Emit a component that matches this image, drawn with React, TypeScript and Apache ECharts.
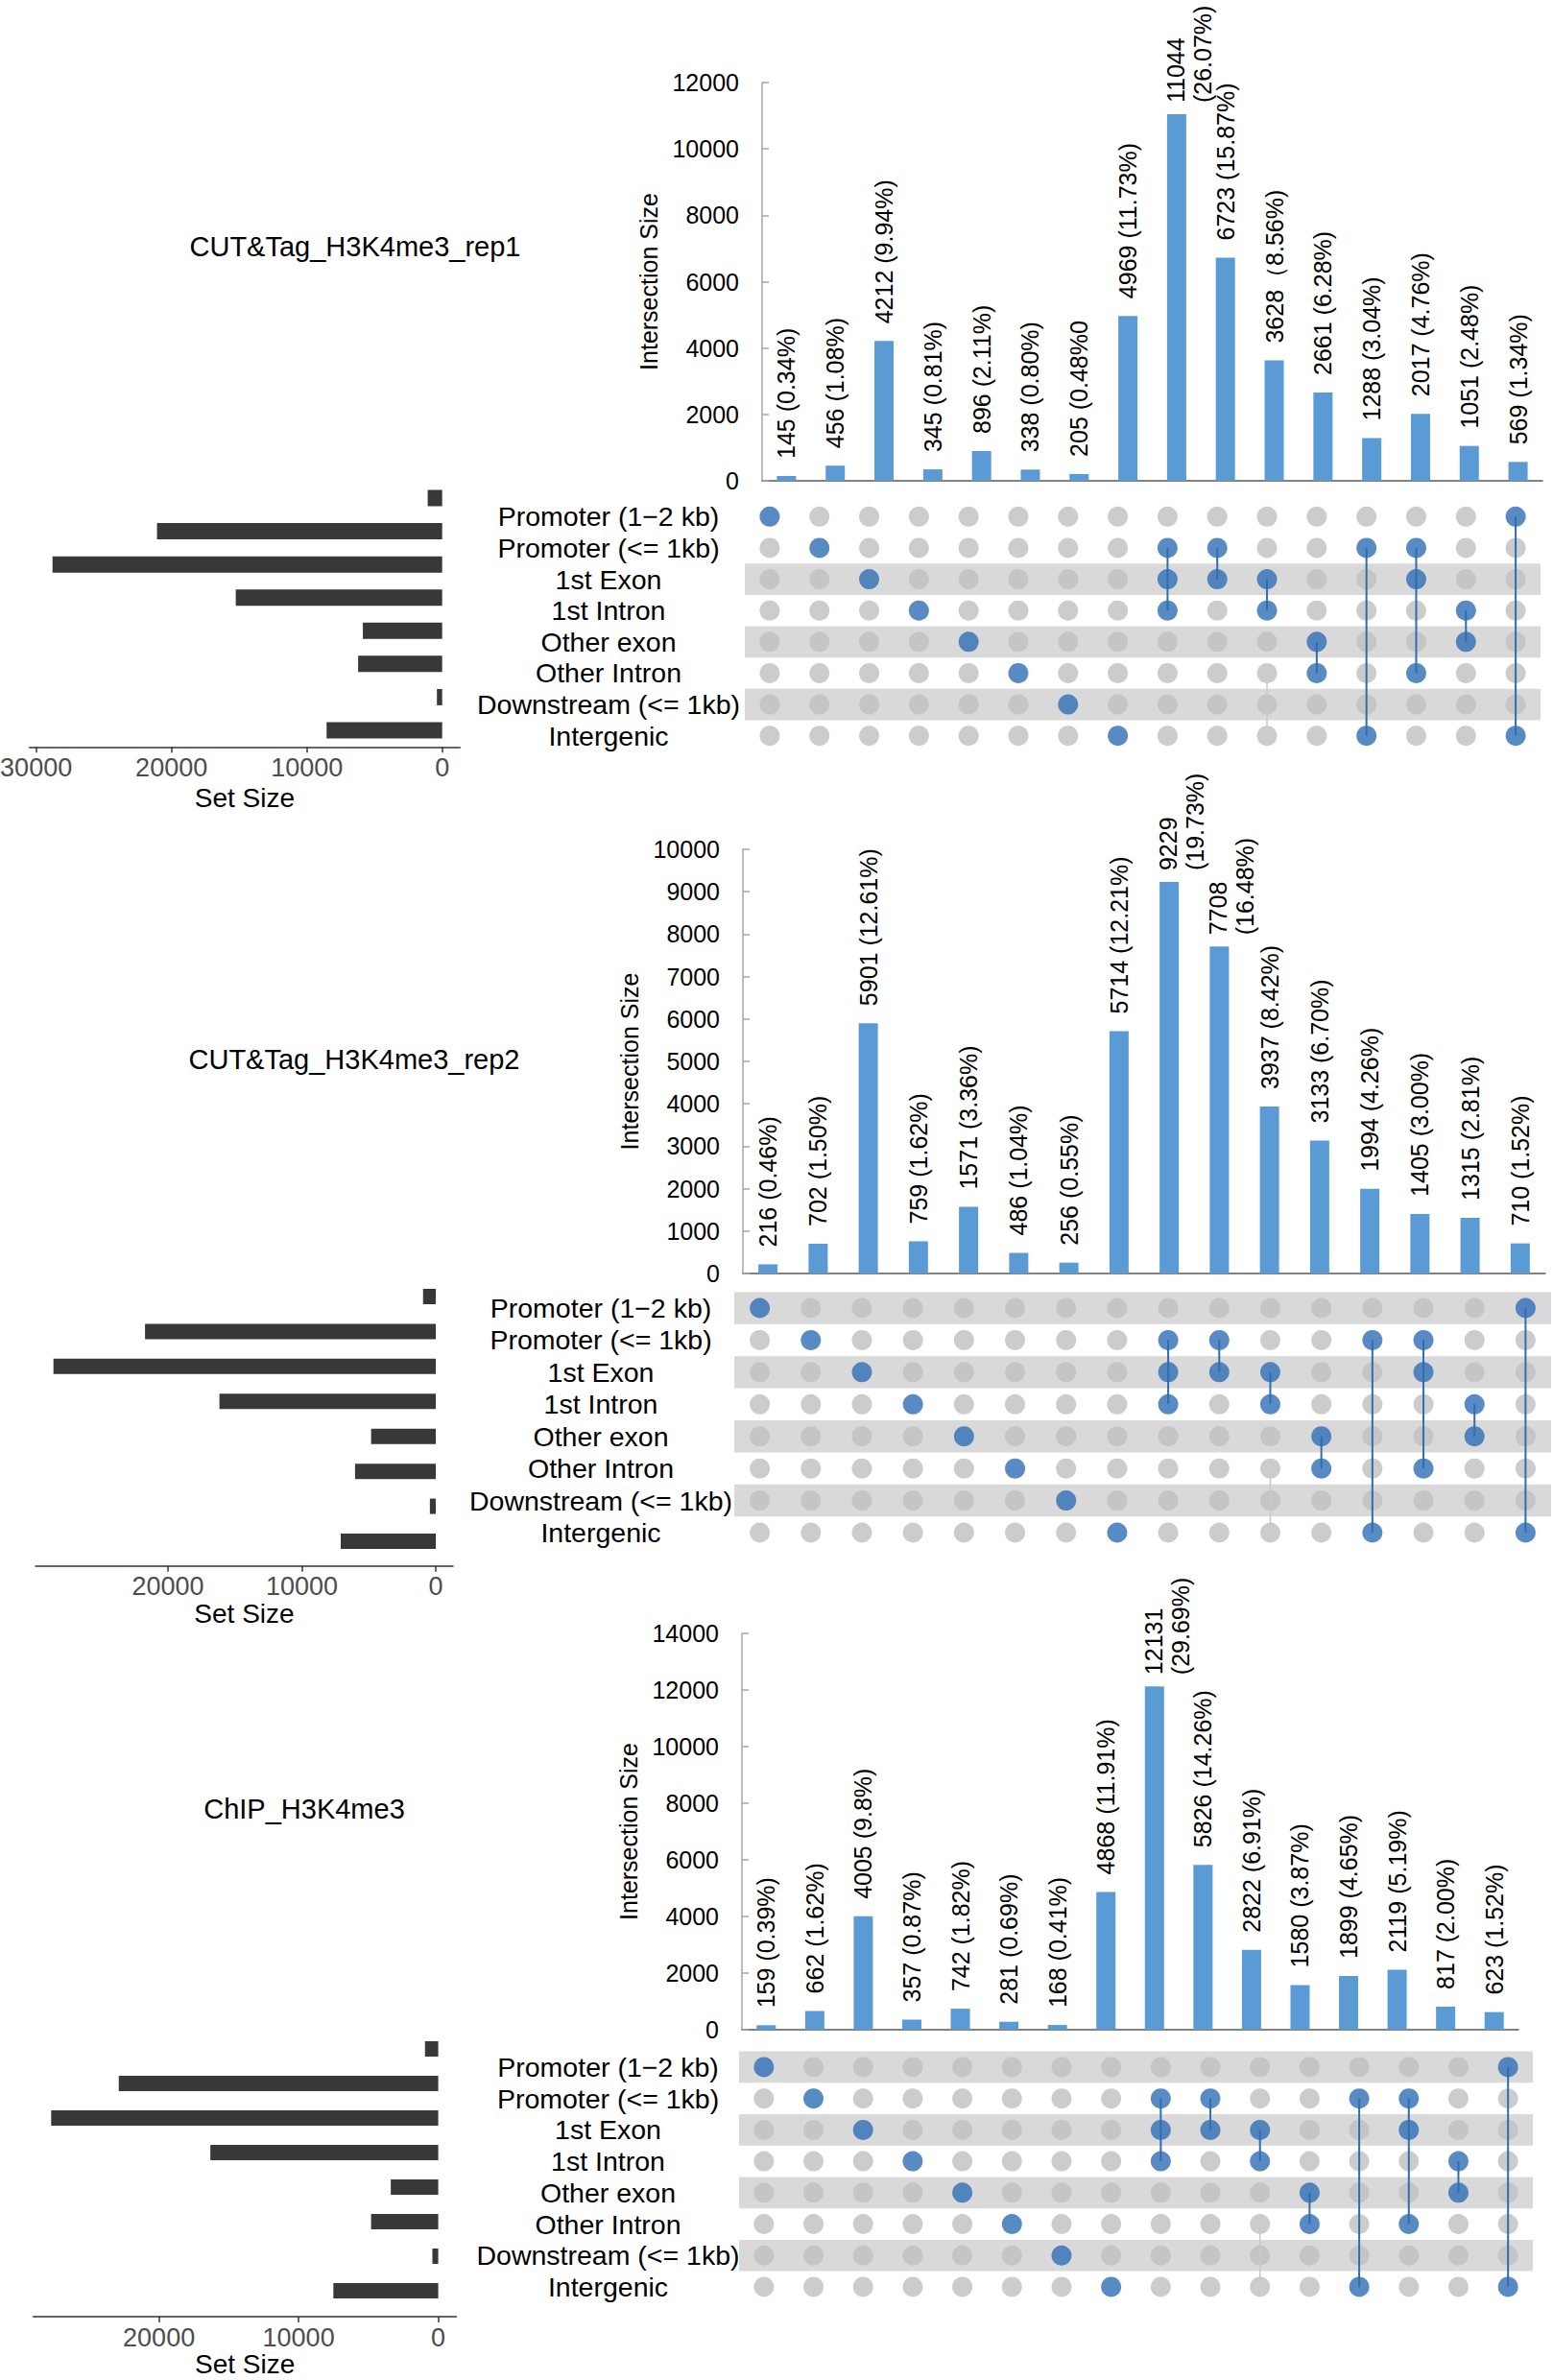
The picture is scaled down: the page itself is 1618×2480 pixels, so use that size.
import React, { useEffect, useRef } from "react";
import * as echarts from "echarts";

// ---------------- DATA ----------------
const setNames = [
  "Promoter (1−2 kb)",
  "Promoter (<= 1kb)",
  "1st Exon",
  "1st Intron",
  "Other exon",
  "Other Intron",
  "Downstream (<= 1kb)",
  "Intergenic",
];

// set membership (row indices) of the 16 intersection columns
const combos = [[0], [1], [2], [3], [4], [5], [6], [7], [1, 2, 3], [1, 2], [2, 3], [4, 5], [1, 7], [1, 2, 5], [3, 4], [0, 7]];
// faint grey connector present in the original matrix: [column, fromRow, toRow]
const faintLinks = [[10, 5, 7]];

const titles = ["CUT&Tag_H3K4me3_rep1", "CUT&Tag_H3K4me3_rep2", "ChIP_H3K4me3"];

const counts1 = [145, 456, 4212, 345, 896, 338, 205, 4969, 11044, 6723, 3628, 2661, 1288, 2017, 1051, 569];
const labels1 = [
  "145 (0.34%)", "456 (1.08%)", "4212 (9.94%)", "345 (0.81%)", "896 (2.11%)", "338 (0.80%)", "205 (0.48%0",
  "4969 (11.73%)", "11044\n(26.07%)", "6723 (15.87%)", "3628（8.56%)", "2661 (6.28%)", "1288 (3.04%)",
  "2017 (4.76%)", "1051 (2.48%)", "569 (1.34%)",
];
const counts2 = [216, 702, 5901, 759, 1571, 486, 256, 5714, 9229, 7708, 3937, 3133, 1994, 1405, 1315, 710];
const labels2 = [
  "216 (0.46%)", "702 (1.50%)", "5901 (12.61%)", "759 (1.62%)", "1571 (3.36%)", "486 (1.04%)", "256 (0.55%)",
  "5714 (12.21%)", "9229\n(19.73%)", "7708\n(16.48%)", "3937 (8.42%)", "3133 (6.70%)", "1994 (4.26%)",
  "1405 (3.00%)", "1315 (2.81%)", "710 (1.52%)",
];
const counts3 = [159, 662, 4005, 357, 742, 281, 168, 4868, 12131, 5826, 2822, 1580, 1899, 2119, 817, 623];
const labels3 = [
  "159 (0.39%)", "662 (1.62%)", "4005 (9.8%)", "357 (0.87%)", "742 (1.82%)", "281 (0.69%)", "168 (0.41%)",
  "4868 (11.91%)", "12131\n(29.69%)", "5826 (14.26%)", "2822 (6.91%)", "1580 (3.87%)", "1899 (4.65%)",
  "2119 (5.19%)", "817 (2.00%)", "623 (1.52%)",
];

const setSizes1 = [1070, 21070, 28790, 15250, 5860, 6210, 390, 8540];
const setSizes2 = [950, 21720, 28560, 16160, 4830, 6030, 440, 7100];
const setSizes3 = [950, 22880, 27720, 16320, 3400, 4810, 420, 7510];

const yMax1 = 12000, yStep1 = 2000;
const yMax2 = 10000, yStep2 = 1000;
const yMax3 = 14000, yStep3 = 2000;

const setTicks1 = [0, 10000, 20000, 30000];
const setTicks2 = [0, 10000, 20000];
const setTicks3 = [0, 10000, 20000];

const shadedRows1 = [2, 4, 6];
const shadedRows2 = [0, 2, 4, 6];
const shadedRows3 = [0, 2, 4, 6];

const panels = [
  { title: titles[0], counts: counts1, labels: labels1, setSizes: setSizes1, yMax: yMax1, yStep: yStep1, setTicks: setTicks1, shaded: shadedRows1 },
  { title: titles[1], counts: counts2, labels: labels2, setSizes: setSizes2, yMax: yMax2, yStep: yStep2, setTicks: setTicks2, shaded: shadedRows2 },
  { title: titles[2], counts: counts3, labels: labels3, setSizes: setSizes3, yMax: yMax3, yStep: yStep3, setTicks: setTicks3, shaded: shadedRows3 },
];

// ---------------- LAYOUT (pixels) ----------------
const layouts = [
  {
    titleX: 370, titleY: 257,
    barLeft: 794, barWidth: 813, barTop: 86, barBottom: 501,
    matLeft: 776, matRight: 1605, matTop: 522, matHeight: 261, matMargin: 142,
    setLeft: 30.6, setRight: 479.3, setTop: 501.7, setHeight: 276.6, setOffset: 0, setMin: -1320, setMax: 30500, setBar: 17, setNameGap: 39,
  },
  {
    titleX: 369, titleY: 1104,
    barLeft: 774, barWidth: 836, barTop: 885, barBottom: 1327,
    matLeft: 765, matRight: 1616, matTop: 1346.3, matHeight: 267.4, matMargin: 139,
    setLeft: 37, setRight: 472, setTop: 1332.8, setHeight: 291.4, setOffset: 7.5, setMin: -1290, setMax: 29900, setBar: 16, setNameGap: 36,
  },
  {
    titleX: 317, titleY: 1885,
    barLeft: 773, barWidth: 809, barTop: 1702, barBottom: 2115,
    matLeft: 770, matRight: 1597, matTop: 2137.6, matHeight: 261.7, matMargin: 136.5,
    setLeft: 34.7, setRight: 475.5, setTop: 2117, setHeight: 288, setOffset: 9, setMin: -1300, setMax: 29000, setBar: 16, setNameGap: 34,
  },
];

const FONT = "'Liberation Sans', Arial, Helvetica, sans-serif";
const BLUE_BAR = "#5b9bd5";
const BLUE_DOT = "#2e6db4";
const GREY_DOT = "#bfbfbf";
const BAND = "#d9d9d9";

const plain = (v: number) => String(v);

function buildOption() {
  const grid: any[] = [];
  const xAxis: any[] = [];
  const yAxis: any[] = [];
  const series: any[] = [];
  const graphic: any[] = [];
  const colIds = combos.map((_, i) => "I" + (i + 1));

  const grayPts: number[][] = [];
  const bluePts: number[][] = [];
  combos.forEach((m, c) => {
    for (let r = 0; r < setNames.length; r++) (m.includes(r) ? bluePts : grayPts).push([c, r]);
  });
  const links = combos
    .map((m, c) => [c, Math.min(...m), Math.max(...m)])
    .filter((d) => d[1] !== d[2]);

  const linkRender = (color: string, width: number) => (params: any, api: any) => {
    const a = api.coord([api.value(0), api.value(1)]);
    const b = api.coord([api.value(0), api.value(2)]);
    return {
      type: "line",
      shape: { x1: a[0], y1: a[1], x2: b[0], y2: b[1] },
      style: { stroke: color, lineWidth: width },
    };
  };

  panels.forEach((p, pi) => {
    const L = layouts[pi];

    graphic.push({
      type: "text",
      x: L.titleX,
      y: L.titleY,
      style: { text: p.title, fontFamily: FONT, fontSize: 29, fill: "#000", align: "center", verticalAlign: "middle" },
    });

    // ---- intersection bar chart ----
    const gB = grid.length;
    grid.push({ left: L.barLeft, top: L.barTop, width: L.barWidth, height: L.barBottom - L.barTop, outerBoundsMode: "none" });
    xAxis.push({
      gridIndex: gB, type: "category", data: colIds,
      axisLine: { show: true, lineStyle: { color: "#595959", width: 1.5 } },
      axisTick: { show: false }, axisLabel: { show: false }, splitLine: { show: false },
    });
    yAxis.push({
      gridIndex: gB, type: "value", min: 0, max: p.yMax, interval: p.yStep,
      name: "Intersection Size", nameLocation: "middle", nameGap: 106, nameRotate: 90,
      nameTextStyle: { fontFamily: FONT, fontSize: 25, color: "#000" },
      axisLine: { show: true, lineStyle: { color: "#a6a6a6", width: 1.5 } },
      axisTick: { show: true, inside: true, length: 7, lineStyle: { color: "#a6a6a6", width: 1.5 } },
      axisLabel: { fontFamily: FONT, fontSize: 25, color: "#000", margin: 24, formatter: plain },
      splitLine: { show: false },
    });
    const xiB = xAxis.length - 1;
    const yiB = yAxis.length - 1;
    series.push({
      type: "bar", xAxisIndex: xiB, yAxisIndex: yiB, barWidth: 20, silent: true,
      itemStyle: { color: BLUE_BAR },
      label: {
        show: true, position: "top", distance: 18, rotate: 90, align: "left", verticalAlign: "middle",
        fontFamily: FONT, fontSize: 25, lineHeight: 28, color: "#000",
        formatter: (pr: any) => p.labels[pr.dataIndex],
      },
      data: p.counts.map((v, i) =>
        p.labels[i].includes("\n") ? { value: v, label: { offset: [0, 13], distance: 12 } } : { value: v }
      ),
    });

    // ---- matrix ----
    const gM = grid.length;
    grid.push({ left: L.matLeft, top: L.matTop, width: L.matRight - L.matLeft, height: L.matHeight, outerBoundsMode: "none" });
    xAxis.push({ gridIndex: gM, type: "category", data: colIds, show: false });
    yAxis.push({
      gridIndex: gM, type: "category", data: setNames, inverse: true,
      axisLine: { show: false }, axisTick: { show: false }, splitLine: { show: false },
      axisLabel: { interval: 0, fontFamily: FONT, fontSize: 28.5, color: "#000", align: "center", margin: L.matMargin },
    });
    const xiM = xAxis.length - 1;
    const yiM = yAxis.length - 1;
    series.push({
      type: "custom", xAxisIndex: xiM, yAxisIndex: yiM, z: 1, silent: true,
      encode: { x: 0, y: 1 },
      data: p.shaded.map((r) => [0, r]),
      renderItem: (params: any, api: any) => {
        const c = api.coord([0, api.value(1)]);
        const h = api.size([1, 1])[1];
        const cs = params.coordSys;
        return { type: "rect", shape: { x: cs.x, y: c[1] - h / 2, width: cs.width, height: h }, style: { fill: BAND } };
      },
    });
    series.push({
      type: "scatter", xAxisIndex: xiM, yAxisIndex: yiM, z: 2, silent: true,
      symbolSize: 21, itemStyle: { color: GREY_DOT }, data: grayPts,
    });
    series.push({
      type: "custom", xAxisIndex: xiM, yAxisIndex: yiM, z: 3, silent: true,
      encode: { x: 0, y: [1, 2] }, data: faintLinks, renderItem: linkRender("#c9c9c9", 1.5),
    });
    series.push({
      type: "custom", xAxisIndex: xiM, yAxisIndex: yiM, z: 3, silent: true,
      encode: { x: 0, y: [1, 2] }, data: links, renderItem: linkRender(BLUE_DOT, 2),
    });
    series.push({
      type: "scatter", xAxisIndex: xiM, yAxisIndex: yiM, z: 4, silent: true,
      symbolSize: 21, itemStyle: { color: BLUE_DOT }, data: bluePts,
    });

    // ---- set size bars ----
    const gS = grid.length;
    grid.push({ left: L.setLeft, top: L.setTop, width: L.setRight - L.setLeft, height: L.setHeight, outerBoundsMode: "none" });
    xAxis.push({
      gridIndex: gS, type: "value", inverse: true, min: L.setMin, max: L.setMax, offset: L.setOffset,
      name: "Set Size", nameLocation: "middle", nameGap: L.setNameGap,
      nameTextStyle: { fontFamily: FONT, fontSize: 28, color: "#000" },
      axisLine: { show: true, onZero: false, lineStyle: { color: "#333333", width: 1.5 } },
      axisTick: { show: true, customValues: p.setTicks, length: 6, lineStyle: { color: "#333333", width: 1.5 } },
      axisLabel: { customValues: p.setTicks, fontFamily: FONT, fontSize: 27, color: "#4d4d4d", margin: 8, formatter: plain },
      splitLine: { show: false },
    });
    yAxis.push({ gridIndex: gS, type: "category", data: setNames, inverse: true, show: false });
    series.push({
      type: "bar", xAxisIndex: xAxis.length - 1, yAxisIndex: yAxis.length - 1, silent: true,
      barWidth: L.setBar, itemStyle: { color: "#383838" }, data: p.setSizes,
    });
  });

  return {
    animation: false,
    backgroundColor: "#ffffff",
    grid,
    xAxis,
    yAxis,
    series,
    graphic,
  };
}

export default function App() {
  const ref = useRef<HTMLDivElement>(null);
  useEffect(() => {
    if (!ref.current) return;
    const chart = echarts.init(ref.current, null, { renderer: "svg" });
    chart.setOption(buildOption() as any);
    return () => chart.dispose();
  }, []);
  return (
    <div
      ref={ref}
      style={{ position: "absolute", left: 0, top: 0, width: 1618, height: 2480, background: "#ffffff" }}
    />
  );
}
